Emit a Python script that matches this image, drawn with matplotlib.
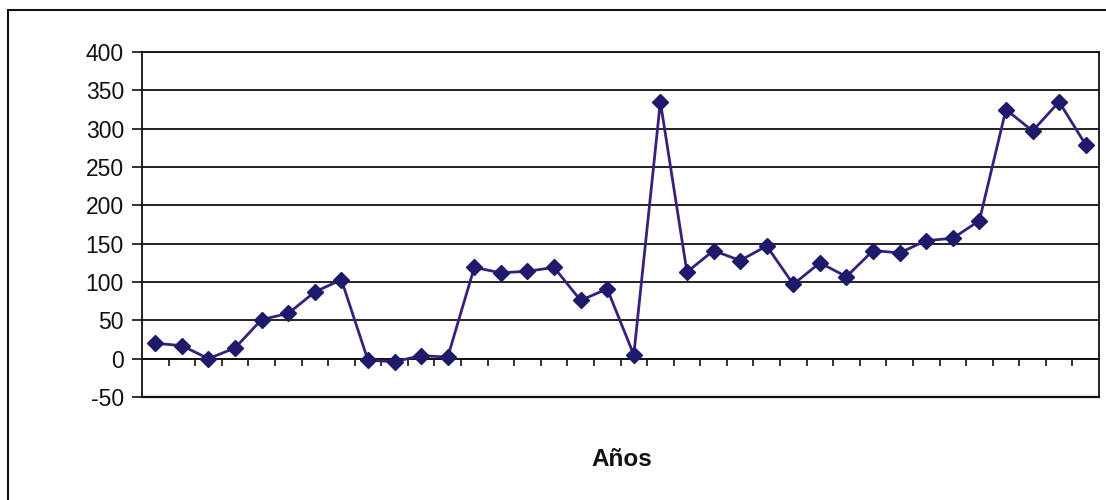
import numpy as np
import matplotlib.pyplot as plt
from matplotlib.patches import Rectangle

plt.rcParams['font.family'] = ['Liberation Sans', 'DejaVu Sans']
plt.rcParams['axes.unicode_minus'] = False

# one value per year (36 years, unlabeled on the chart)
anios = np.arange(1, 37)
valores = [20, 17, 0, 14, 51, 59, 87, 103, -2, -4, 4, 2,
           119, 112, 114, 119, 76, 91, 5, 335, 113, 141, 128, 147,
           97, 125, 107, 141, 138, 154, 157, 180, 325, 297, 335, 279]
yticks = [-50, 0, 50, 100, 150, 200, 250, 300, 350, 400]

fig = plt.figure(figsize=(11.06, 5.0), dpi=100)
ax = fig.add_axes([142/1106, 1 - 397/500, (1099 - 142)/1106, (397 - 52)/500])

ax.plot(anios, valores, color='#3b1f7a', lw=2.0, marker='D', ms=8.5,
        mfc='#1e1a6b', mec='#1e1a6b', zorder=5)

ax.set_xlim(0.5, 36.5)
ax.set_ylim(-50, 400)
ax.set_yticks(yticks)
ax.tick_params(axis='y', direction='out', length=7, width=1.2, pad=6,
               labelsize=16.5, colors='#111111')
ax.grid(axis='y', color='#111111', lw=1.3)
ax.set_axisbelow(True)

# category axis crossing at zero, ticks between categories
ax.spines['bottom'].set_position(('data', 0))
ax.spines['bottom'].set_color('#111111')
ax.spines['bottom'].set_linewidth(1.3)
ax.set_xticks(np.arange(1.5, 36.5, 1.0))
ax.tick_params(axis='x', direction='out', length=5, width=1.2,
               labelbottom=False, colors='#111111')
ax.axhline(-50, color='#111111', lw=1.6, clip_on=False)
for s in ['left', 'right', 'top']:
    ax.spines[s].set_color('#111111')
    ax.spines[s].set_linewidth(1.3)

fig.text(622/1106, 1 - 460/500, 'Años', ha='center', va='center',
         fontsize=17.5, fontweight='bold', color='#111111')

fig.add_artist(Rectangle((8/1106, -0.1), 1.2, 1.1 - 10/500, fill=False,
                         ec='#111111', lw=1.5, transform=fig.transFigure))

fig.savefig('out.png', dpi=100)
